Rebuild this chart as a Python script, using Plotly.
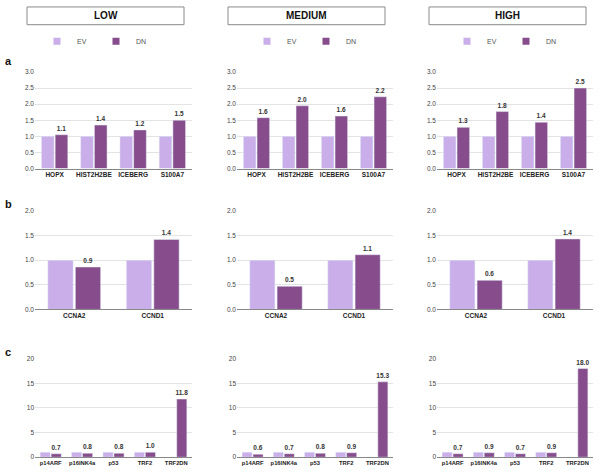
import plotly.graph_objects as go
from plotly.subplots import make_subplots

levels = ["LOW", "MEDIUM", "HIGH"]

genes_a = ["HOPX", "HIST2H2BE", "ICEBERG", "S100A7"]
ev_a = [1.0, 1.0, 1.0, 1.0]
dn_a = {"LOW": [1.05, 1.35, 1.2, 1.5],
        "MEDIUM": [1.58, 1.95, 1.63, 2.23],
        "HIGH": [1.28, 1.77, 1.44, 2.5]}
lab_a = {"LOW": ["1.1", "1.4", "1.2", "1.5"],
         "MEDIUM": ["1.6", "2.0", "1.6", "2.2"],
         "HIGH": ["1.3", "1.8", "1.4", "2.5"]}

genes_b = ["CCNA2", "CCND1"]
ev_b = [1.0, 1.0]
dn_b = {"LOW": [0.86, 1.42],
        "MEDIUM": [0.47, 1.11],
        "HIGH": [0.59, 1.43]}
lab_b = {"LOW": ["0.9", "1.4"],
         "MEDIUM": ["0.5", "1.1"],
         "HIGH": ["0.6", "1.4"]}

genes_c = ["p14ARF", "p16INK4a", "p53", "TRF2", "TRF2DN"]
ev_c = [1.0, 1.0, 1.0, 1.0, None]
dn_c = {"LOW": [0.7, 0.8, 0.8, 1.0, 11.8],
        "MEDIUM": [0.6, 0.7, 0.8, 0.9, 15.3],
        "HIGH": [0.7, 0.9, 0.7, 0.9, 18.0]}
lab_c = {"LOW": ["0.7", "0.8", "0.8", "1.0", "11.8"],
         "MEDIUM": ["0.6", "0.7", "0.8", "0.9", "15.3"],
         "HIGH": ["0.7", "0.9", "0.7", "0.9", "18.0"]}

EV_COLOR = "#C9AEEA"
DN_COLOR = "#864C8C"
FONT = "Liberation Sans"
W, H = 600, 473

fig = make_subplots(rows=3, cols=3, horizontal_spacing=0.05, vertical_spacing=0.05)

# pixel geometry -> paper domains
x_px = [(35, 192), (237, 393), (437, 593)]
y_px = [(69, 167), (210, 310), (360, 460)]

panels = [(genes_a, ev_a, dn_a, lab_a, [0, 3], 0.5, ".1f", 6.5),
          (genes_b, ev_b, dn_b, lab_b, [0, 2], 0.5, ".1f", 6.5),
          (genes_c, ev_c, dn_c, lab_c, [0, 20], 5, "d", 5.8)]

legend_names = ["legend", "legend2", "legend3"]

for r, (cats, ev, dn, lab, rng, dtick, fmt, cfs) in enumerate(panels):
    for c, lvl in enumerate(levels):
        fig.add_trace(go.Bar(x=cats, y=ev, name="EV", marker_color=EV_COLOR,
                             showlegend=False, hoverinfo="x+y"),
                      row=r + 1, col=c + 1)
        fig.add_trace(go.Bar(x=cats, y=dn[lvl], name="DN", marker_color=DN_COLOR,
                             text=lab[lvl], textposition="outside", constraintext="none",
                             textfont=dict(size=6.5, color="#333", family=FONT, weight="bold"),
                             cliponaxis=False, showlegend=False),
                      row=r + 1, col=c + 1)
        idx = r * 3 + c + 1
        xs = "" if idx == 1 else str(idx)
        x0, x1 = x_px[c]
        y0, y1 = y_px[r]
        fig.layout["xaxis" + xs].update(
            domain=[x0 / W, x1 / W], showline=True, linecolor="#888", linewidth=1,
            ticks="", tickfont=dict(size=cfs, color="#222", family=FONT, weight="bold"),
            showgrid=False)
        fig.layout["yaxis" + xs].update(
            domain=[1 - y1 / H, 1 - y0 / H], range=rng, dtick=dtick, tickformat=fmt,
            showgrid=True, gridcolor="#E3E3E3", gridwidth=1, zeroline=False,
            ticks="", tickfont=dict(size=6.5, color="#444", family=FONT))

# legends (one per column), via proxy traces
leg_x = [37, 247, 447]
for c in range(3):
    for name, col in [("EV", EV_COLOR), ("DN", DN_COLOR)]:
        fig.add_trace(go.Scatter(x=[None], y=[None], mode="markers", name=name,
                                 marker=dict(symbol="square", size=7, color=col),
                                 legend=legend_names[c], showlegend=True,
                                 xaxis="x", yaxis="y"))
    fig.layout[legend_names[c]] = dict(
        orientation="h", x=leg_x[c] / W, y=1 - 23 / H, xanchor="left", yanchor="top",
        font=dict(size=7, color="#555", family=FONT), itemwidth=30,
        entrywidth=14, entrywidthmode="pixels", bgcolor="rgba(0,0,0,0)",
        tracegroupgap=0)

# title boxes
box_px = [(27, 184), (228, 385), (429, 586)]
shapes = []
annotations = []
for (bx0, bx1), lvl in zip(box_px, levels):
    shapes.append(dict(type="rect", xref="paper", yref="paper",
                       x0=bx0 / W, x1=bx1 / W, y0=1 - 21 / H, y1=1 - 3 / H,
                       line=dict(color="#8A8A8A", width=1), fillcolor="white"))
    annotations.append(dict(text="<b>" + lvl + "</b>", xref="paper", yref="paper",
                            x=(bx0 + bx1) / 2 / W, y=1 - 12 / H, showarrow=False,
                            xanchor="center", yanchor="middle",
                            font=dict(size=10, color="#111", family=FONT)))

for letter, ypx in [("a", 58), ("b", 203), ("c", 353)]:
    annotations.append(dict(text="<b>" + letter + "</b>", xref="paper", yref="paper",
                            x=3 / W, y=1 - ypx / H, showarrow=False,
                            xanchor="left", yanchor="middle",
                            font=dict(size=11, color="#111", family=FONT)))

fig.update_layout(
    width=W, height=H, margin=dict(l=0, r=0, t=0, b=0),
    paper_bgcolor="white", plot_bgcolor="white",
    barmode="group", bargap=0.3, bargroupgap=0.08,
    shapes=shapes, annotations=annotations,
    font=dict(family=FONT),
)

fig.write_html("out.html", config={"displayModeBar": False},
               post_script="document.body.style.margin='0';document.body.style.overflow='hidden';")
